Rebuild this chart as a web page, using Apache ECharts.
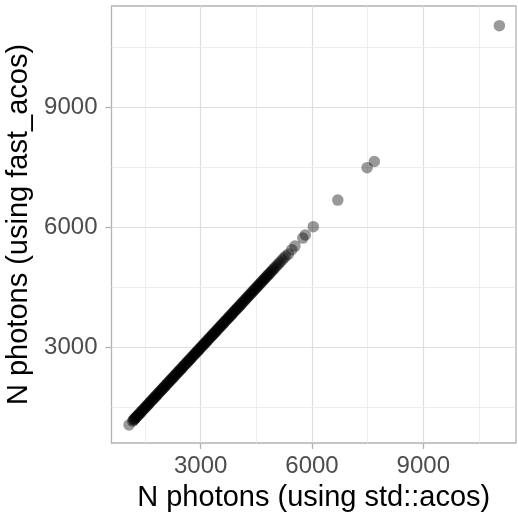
<!DOCTYPE html>
<html>
<head>
<meta charset="utf-8">
<script src="https://cdn.jsdelivr.net/npm/echarts@6/dist/echarts.min.js"></script>
<style>
html,body{margin:0;padding:0;background:#fff;}
#chart{width:518px;height:514px;}
</style>
</head>
<body>
<div id="chart"></div>
<script>
// N photons counted with std::acos (x) and with fast_acos (y)
const stdAcos = [1070, 1165, 1190, 1205, 1225, 1240, 1260, 1275, 1300, 1320, 1345, 1365, 1390, 1410, 1435, 1455, 1480, 1500, 1525, 1545, 1570, 1590, 1615, 1635, 1660, 1680, 1705, 1725, 1750, 1770, 1795, 1815, 1840, 1860, 1885, 1905, 1930, 1950, 1975, 1995, 2020, 2040, 2065, 2085, 2110, 2130, 2155, 2175, 2200, 2220, 2245, 2265, 2290, 2310, 2335, 2355, 2380, 2400, 2425, 2445, 2470, 2490, 2515, 2535, 2560, 2580, 2605, 2625, 2650, 2670, 2695, 2715, 2740, 2760, 2785, 2805, 2830, 2850, 2875, 2895, 2920, 2940, 2965, 2985, 3010, 3030, 3055, 3075, 3100, 3120, 3145, 3165, 3190, 3210, 3235, 3255, 3280, 3300, 3325, 3345, 3370, 3390, 3415, 3435, 3460, 3480, 3505, 3525, 3550, 3570, 3595, 3615, 3640, 3660, 3685, 3705, 3730, 3750, 3775, 3795, 3820, 3840, 3865, 3885, 3910, 3930, 3955, 3975, 4000, 4020, 4045, 4065, 4090, 4110, 4135, 4160, 4185, 4210, 4235, 4260, 4285, 4310, 4335, 4360, 4385, 4410, 4435, 4460, 4485, 4510, 4535, 4560, 4585, 4610, 4635, 4660, 4685, 4710, 4735, 4760, 4785, 4810, 4835, 4865, 4895, 4925, 4955, 4985, 5020, 5060, 5100, 5140, 5190, 5240, 5290, 5365, 5455, 5540, 5750, 5820, 6035, 6695, 7485, 7680, 11050];
const fastAcos = [1070, 1165, 1190, 1205, 1225, 1240, 1260, 1275, 1300, 1320, 1345, 1365, 1390, 1410, 1435, 1455, 1480, 1500, 1525, 1545, 1570, 1590, 1615, 1635, 1660, 1680, 1705, 1725, 1750, 1770, 1795, 1815, 1840, 1860, 1885, 1905, 1930, 1950, 1975, 1995, 2020, 2040, 2065, 2085, 2110, 2130, 2155, 2175, 2200, 2220, 2245, 2265, 2290, 2310, 2335, 2355, 2380, 2400, 2425, 2445, 2470, 2490, 2515, 2535, 2560, 2580, 2605, 2625, 2650, 2670, 2695, 2715, 2740, 2760, 2785, 2805, 2830, 2850, 2875, 2895, 2920, 2940, 2965, 2985, 3010, 3030, 3055, 3075, 3100, 3120, 3145, 3165, 3190, 3210, 3235, 3255, 3280, 3300, 3325, 3345, 3370, 3390, 3415, 3435, 3460, 3480, 3505, 3525, 3550, 3570, 3595, 3615, 3640, 3660, 3685, 3705, 3730, 3750, 3775, 3795, 3820, 3840, 3865, 3885, 3910, 3930, 3955, 3975, 4000, 4020, 4045, 4065, 4090, 4110, 4135, 4160, 4185, 4210, 4235, 4260, 4285, 4310, 4335, 4360, 4385, 4410, 4435, 4460, 4485, 4510, 4535, 4560, 4585, 4610, 4635, 4660, 4685, 4710, 4735, 4760, 4785, 4810, 4835, 4865, 4895, 4925, 4955, 4985, 5020, 5060, 5100, 5140, 5190, 5240, 5290, 5340, 5450, 5540, 5740, 5820, 6025, 6690, 7500, 7655, 11050];
const majorTicks = [3000, 6000, 9000];
const minorBreaks = [1500, 4500, 7500, 10500];
const xLimits = [596, 11498];
const yLimits = [617, 11542];

const points = stdAcos.map((v, i) => [v, fastAcos[i]]);

const majorStyle = {color: '#DEDEDE', width: 1.2, type: 'solid'};
const minorStyle = {color: '#E8E8E8', width: 0.8, type: 'solid'};
const gridLines = [];
majorTicks.forEach(v => {
  gridLines.push({xAxis: v, lineStyle: majorStyle});
  gridLines.push({yAxis: v, lineStyle: majorStyle});
});
minorBreaks.forEach(v => {
  gridLines.push({xAxis: v, lineStyle: minorStyle});
  gridLines.push({yAxis: v, lineStyle: minorStyle});
});

const font = 'Liberation Sans, Arial, Helvetica, sans-serif';
const plain = v => String(v);
const chart = echarts.init(document.getElementById('chart'), null, {renderer: 'canvas'});
chart.setOption({
  animation: false,
  backgroundColor: '#ffffff',
  grid: {left: 111.5, top: 6, right: 2, bottom: 71, containLabel: false, outerBoundsMode: 'none',
         show: true, borderColor: '#B3B3B3', borderWidth: 1.3, backgroundColor: '#ffffff'},
  xAxis: {
    type: 'value', min: xLimits[0], max: xLimits[1],
    name: 'N photons (using std::acos)', nameLocation: 'middle', nameGap: 40,
    nameTextStyle: {fontFamily: font, fontSize: 29, color: '#000000'},
    axisLine: {show: false},
    axisTick: {show: true, customValues: majorTicks, length: 6, lineStyle: {color: '#B3B3B3', width: 1.3}},
    axisLabel: {customValues: majorTicks, formatter: plain, margin: 11, fontFamily: font, fontSize: 24, color: '#4D4D4D'},
    splitLine: {show: false}
  },
  yAxis: {
    type: 'value', min: yLimits[0], max: yLimits[1],
    name: 'N photons (using fast_acos)', nameLocation: 'middle', nameGap: 77,
    nameTextStyle: {fontFamily: font, fontSize: 29, color: '#000000'},
    axisLine: {show: false},
    axisTick: {show: true, customValues: majorTicks, length: 6, lineStyle: {color: '#B3B3B3', width: 1.3}},
    axisLabel: {customValues: majorTicks, formatter: plain, margin: 14, fontFamily: font, fontSize: 24, color: '#4D4D4D'},
    splitLine: {show: false}
  },
  series: [
    {
      type: 'scatter', data: [], z: 1, silent: true,
      markLine: {silent: true, z: 1, symbol: ['none', 'none'], label: {show: false}, animation: false, data: gridLines}
    },
    {
      type: 'scatter', data: points, z: 10, symbol: 'circle', symbolSize: 11.5,
      itemStyle: {color: 'rgba(0,0,0,0.5)'}, large: false, progressive: 0
    }
  ]
});
</script>
</body>
</html>
